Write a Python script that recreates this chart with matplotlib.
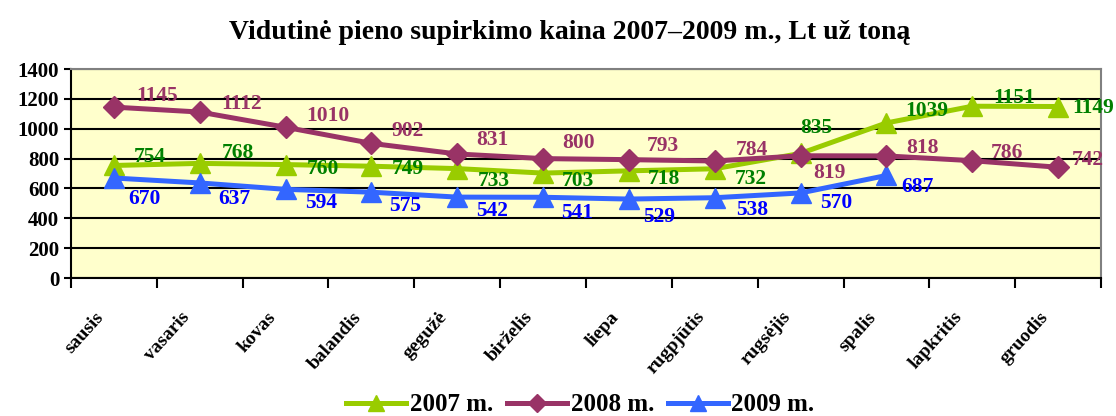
import matplotlib.pyplot as plt
import matplotlib.transforms as mtransforms
import numpy as np

plt.rcParams['font.family'] = ['Liberation Serif', 'DejaVu Serif']
plt.rcParams['font.weight'] = 'bold'

menesiai = ['sausis', 'vasaris', 'kovas', 'balandis', 'gegužė', 'birželis',
            'liepa', 'rugpjūtis', 'rugsėjis', 'spalis', 'lapkritis', 'gruodis']
kaina_2007 = [754, 768, 760, 749, 733, 703, 718, 732, 835, 1039, 1151, 1149]
kaina_2008 = [1145, 1112, 1010, 902, 831, 800, 793, 784, 819, 818, 786, 742]
kaina_2009 = [670, 637, 594, 575, 542, 541, 529, 538, 570, 687]

# label offsets in pixels (dx, dy)
off_2007 = [(36, 8), (38, 10), (37, -4), (36, -3), (36, -12), (35, -8), (35, -8),
            (36, -10), (16, 25), (40, 12), (42, 8), (35, -1)]
off_2008 = [(43, 11), (42, 8), (42, 11), (36, 12), (35, 14), (35, 16), (34, 14),
            (37, 11), (29, -17), (36, 8), (35, 8), (30, 7)]
off_2009 = [(31, -21), (35, -16), (36, -14), (34, -14), (35, -14), (34, -16),
            (30, -18), (37, -12), (36, -10), (31, -12)]

fig = plt.figure(figsize=(11.16, 4.16), dpi=100)
ax = fig.add_axes([0.0636, 0.3317, 0.923, 0.5023])
ax.set_facecolor('#FFFFCC')

x = np.arange(len(menesiai))
ax.plot(x, kaina_2007, color='#99CC00', lw=3.6, marker='^', ms=14, label='2007 m.', zorder=3)
ax.plot(x, kaina_2008, color='#993366', lw=3.6, marker='D', ms=11, label='2008 m.', zorder=4)
ax.plot(x[:len(kaina_2009)], kaina_2009, color='#3366FF', lw=3.6, marker='^', ms=14,
        label='2009 m.', zorder=3)

def zymes(vals, offs, col):
    for i, (v, o) in enumerate(zip(vals, offs)):
        ax.annotate(str(v), (x[i], v), xytext=o, textcoords='offset pixels',
                    ha='center', va='center', color=col, fontsize=15.5, fontweight='bold',
                    zorder=6)

zymes(kaina_2007, off_2007, '#008000')
zymes(kaina_2008, off_2008, '#993366')
zymes(kaina_2009, off_2009, '#0000FF')

ax.set_xlim(-0.5, 11.5)
ax.set_ylim(0, 1400)
ax.set_yticks(range(0, 1401, 200))
ax.yaxis.grid(True, color='black', lw=1.5)
ax.set_axisbelow(True)
ax.tick_params(axis='y', labelsize=15, length=5, width=1.5, direction='out')

ax.set_xticks(np.arange(-0.5, 12, 1), minor=False)
ax.set_xticklabels([])
ax.tick_params(axis='x', length=7, width=1.5, direction='out')
ax.set_xticks(x, minor=True)
ax.set_xticklabels(menesiai, minor=True, rotation=48, ha='right', va='top',
                   rotation_mode='anchor', fontsize=14)
ax.tick_params(axis='x', which='minor', length=0, pad=22)
shift = mtransforms.ScaledTranslation(-19 / 100, 0, fig.dpi_scale_trans)
for t in ax.xaxis.get_minorticklabels():
    t.set_fontweight('bold')
    t.set_transform(t.get_transform() + shift)

for s in ['left', 'bottom']:
    ax.spines[s].set_color('black')
    ax.spines[s].set_linewidth(1.5)
for s in ['top', 'right']:
    ax.spines[s].set_color('#808080')
    ax.spines[s].set_linewidth(1.5)

fig.text(0.51, 0.923, 'Vidutinė pieno supirkimo kaina 2007–2009 m., Lt už toną',
         ha='center', va='center', fontsize=20, fontweight='bold')

fig.legend(loc='center', bbox_to_anchor=(0.52, 0.027), ncol=3, frameon=False,
           fontsize=18, handlelength=2.4, handletextpad=0.15, columnspacing=0.55,
           markerscale=0.8, borderpad=0)

fig.savefig('out.png', dpi=100)
